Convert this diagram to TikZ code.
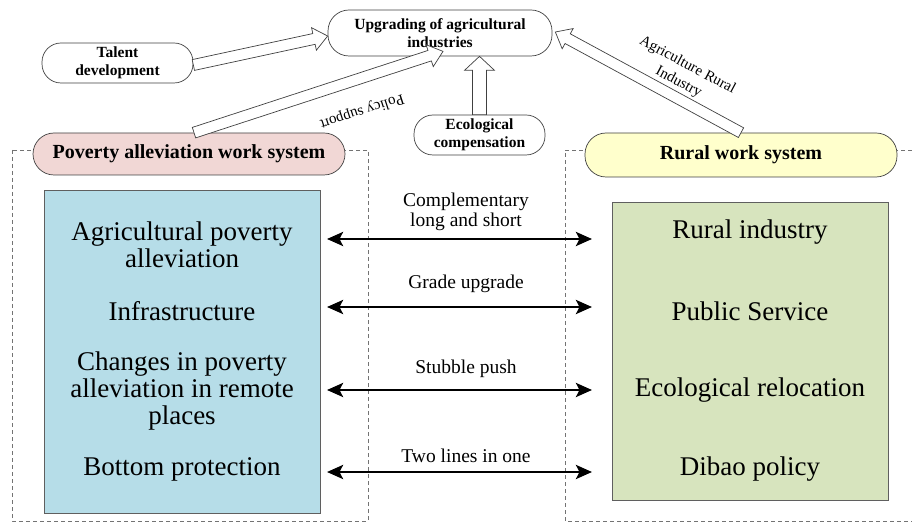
\documentclass[tikz,border=0pt]{standalone}
\usepackage{fontspec}
\setmainfont{Liberation Serif}
\usetikzlibrary{calc,arrows.meta}

\definecolor{pinkfill}{RGB}{241,215,213}
\definecolor{yellowfill}{RGB}{255,255,204}
\definecolor{bluefill}{RGB}{182,221,232}
\definecolor{greenfill}{RGB}{215,228,190}
\definecolor{edgegray}{RGB}{95,95,95}

% hollow block arrow between two named points:
% #1 start, #2 tip, #3 half shaft width, #4 half head width
\newcommand\fatarrow[4]{%
  \coordinate (fa-neck) at ($(#2)!14pt!(#1)$);
  \draw[fatarrowstyle]
    ($(#1)!#3!90:(#2)$) -- ($(fa-neck)!#3!90:(#2)$) --
    ($(fa-neck)!#4!90:(#2)$) -- (#2) --
    ($(fa-neck)!#4!-90:(#2)$) -- ($(fa-neck)!#3!-90:(#2)$) --
    ($(#1)!#3!-90:(#2)$) -- cycle;}

\begin{document}
\begin{tikzpicture}[x=1pt,y=-1pt,
  fatarrowstyle/.style={draw=black!75, fill=white, line width=0.7pt, line join=miter},
  smallpill/.style={draw=black!75, fill=white, line width=0.7pt, rounded corners=19pt,
    align=center, inner sep=0pt, font=\bfseries\fontsize{15.5}{17.5}\selectfont},
  bigpill/.style={draw=black!75, line width=0.7pt, rounded corners=21pt,
    inner sep=0pt, minimum width=312pt, minimum height=42pt,
    font=\bfseries\fontsize{20}{22}\selectfont},
  frame/.style={draw=black!55, line width=0.6pt, dash pattern=on 4pt off 3pt},
  itembox/.style={draw=edgegray, line width=0.8pt, inner sep=0pt},
  itemtext/.style={align=center, font=\fontsize{27}{27}\selectfont},
  linklabel/.style={align=center, font=\fontsize{19.5}{20}\selectfont},
  link/.style={line width=2.8pt, {Stealth[length=16pt,width=14pt,inset=3.5pt]}-{Stealth[length=16pt,width=14pt,inset=3.5pt]}},
  slanted/.style={align=center, font=\fontsize{15}{19}\selectfont}
]
\useasboundingbox (0,0) rectangle (912,526);

% dashed frames of the two work systems
\draw[frame] (12,150) rectangle (368,521);
\draw[frame] (912,150) -- (565,150) -- (565,521) -- (912,521);

% top level nodes
\node[smallpill, minimum width=224pt, minimum height=46pt, rounded corners=21pt] (up) at (440,33)
  {Upgrading of agricultural\\industries};
\node[smallpill, minimum width=151pt, minimum height=40pt] (talent) at (117.5,63)
  {Talent\\development};
\node[smallpill, minimum width=131pt, minimum height=40pt] (eco) at (479.5,135)
  {Ecological\\compensation};

% system headers
\node[bigpill, fill=pinkfill] (pov) at (189,154) {Poverty alleviation work system};
\node[bigpill, fill=yellowfill, minimum height=44pt] (rural) at (741,155) {Rural work system};

% hollow arrows into the upgrading node
\coordinate (ta0) at ([yshift=-2pt]talent.east);
\coordinate (ta1) at ([yshift=-3pt]up.west);
\coordinate (ps0) at ([xshift=5pt]pov.north);
\coordinate (ps1) at ([xshift=3pt,yshift=5pt]up.south);
\coordinate (ec1) at (eco.north |- up.south);
\coordinate (ag0) at ([xshift=0pt]rural.north);
\coordinate (ag1) at ([xshift=3pt,yshift=1pt]up.east);
\fatarrow{ta0}{ta1}{5.5pt}{11.5pt}
\fatarrow{ps0}{ps1}{5.5pt}{11.5pt}
\fatarrow{eco.north}{ec1}{7pt}{15pt}
\fatarrow{ag0}{ag1}{5.5pt}{11.5pt}

\node[slanted, rotate=198] (lps) at (362,111) {Policy support};
\node[slanted, rotate=-28] (lag) at (683,74) {Agriculture Rural\\Industry};

% item boxes
\node[itembox, fill=bluefill, minimum width=276pt, minimum height=323pt] (blue) at (182,351.5) {};
\node[itembox, fill=greenfill, minimum width=276pt, minimum height=298pt] (green) at (750,351) {};

\node[itemtext] (p1) at (182,245) {Agricultural poverty\\alleviation};
\node[itemtext] (p2) at (182,311) {Infrastructure};
\node[itemtext] (p3) at (182,391) {Changes in poverty\\alleviation in remote\\places};
\node[itemtext] (p4) at (182,469) {Bottom protection};

\node[itemtext] (r1) at (750,232) {Rural industry};
\node[itemtext] (r2) at (750,311) {Public Service};
\node[itemtext] (r3) at (750,390) {Ecological relocation};
\node[itemtext] (r4) at (750,469) {Dibao policy};

% two-way links between the systems
\foreach \i/\y in {1/239,2/307,3/390,4/472}{
  \coordinate (la\i) at (327,\y);
  \coordinate (lb\i) at (592,\y);
  \draw[link] (la\i) -- (lb\i);
}
\node[linklabel] (t1) at (466,212) {Complementary\\long and short};
\node[linklabel] (t2) at (466,284) {Grade upgrade};
\node[linklabel] (t3) at (466,369) {Stubble push};
\node[linklabel] (t4) at (466,456) {Two lines in one};
\end{tikzpicture}
\end{document}
